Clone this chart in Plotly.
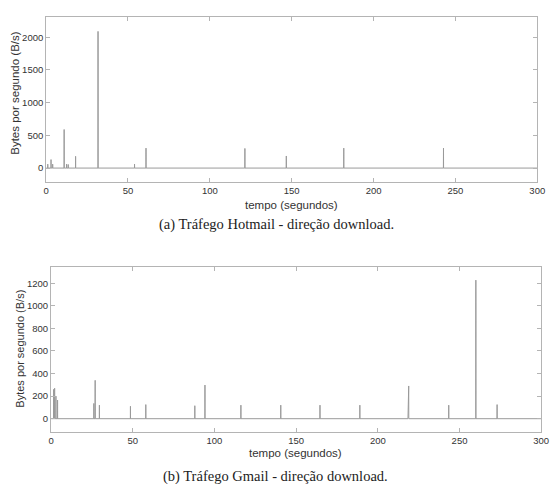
import plotly.graph_objects as go

# Hotmail download spikes (time in s, bytes/s)
hot_t = [1, 3, 4, 11, 12.5, 13.5, 18, 31.7, 54, 61, 121.4, 146.7, 181.8, 242.7]
hot_v = [60, 130, 60, 590, 60, 55, 180, 2090, 60, 305, 300, 185, 305, 305]

# Gmail download spikes
gm_t = [1.6, 2.2, 3.0, 4.0, 26.2, 27.0, 29.6, 48.6, 58.0, 88.0, 94.2, 116.2,
        140.6, 164.6, 189.0, 218.5, 218.9, 243.4, 260.0, 273.0]
gm_v = [260, 270, 200, 165, 135, 340, 120, 110, 125, 115, 298, 120,
        120, 120, 120, 250, 290, 120, 1228, 125]

x_ticks = [0, 50, 100, 150, 200, 250, 300]
hot_yticks = [0, 500, 1000, 1500, 2000]
gm_yticks = [0, 200, 400, 600, 800, 1000, 1200]

X_END = 300
HALF_W = 0.05


def spike_series(ts, vs):
    xs, ys = [0], [0]
    for t, v in zip(ts, vs):
        xs += [t - HALF_W, t, t + HALF_W]
        ys += [0, v, 0]
    xs.append(X_END)
    ys.append(0)
    return xs, ys


W, H = 560, 484
LINE = "#9a9a9a"
FRAME = "#b4b4b4"
TXT = "#333333"

fig = go.Figure()
hx, hy = spike_series(hot_t, hot_v)
gx, gy = spike_series(gm_t, gm_v)
fig.add_trace(go.Scatter(x=hx, y=hy, mode="lines", line=dict(color=LINE, width=1),
                         xaxis="x", yaxis="y", showlegend=False))
fig.add_trace(go.Scatter(x=gx, y=gy, mode="lines", line=dict(color=LINE, width=1),
                         xaxis="x2", yaxis="y2", showlegend=False))


def px_x(p):
    return p / W


def px_y(p):
    return 1 - p / H


axis_common = dict(showgrid=False, zeroline=False, showline=True, linecolor=FRAME,
                   linewidth=1, mirror="ticks", ticks="inside", ticklen=4,
                   tickcolor=FRAME, tickfont=dict(family="Liberation Sans", size=9.5, color=TXT))

fig.update_layout(
    width=W, height=H, margin=dict(l=0, r=0, t=0, b=0),
    paper_bgcolor="white", plot_bgcolor="white", showlegend=False,
    xaxis=dict(domain=[px_x(44), px_x(545)], range=[0, 300], tickvals=x_ticks,
               anchor="y", **axis_common),
    yaxis=dict(domain=[px_y(182), px_y(17)], range=[-213, 2310], tickvals=hot_yticks,
               anchor="x", **axis_common),
    xaxis2=dict(domain=[px_x(49), px_x(549)], range=[0, 300], tickvals=x_ticks,
                anchor="y2", **axis_common),
    yaxis2=dict(domain=[px_y(432), px_y(266.7)], range=[-118, 1347], tickvals=gm_yticks,
                anchor="x2", **axis_common),
)

sans = dict(family="Liberation Sans", size=11.5, color=TXT)
serif = dict(family="Liberation Serif", size=14.5, color="#222222")

annots = [
    dict(text="Bytes por segundo (B/s)", x=px_x(12), y=px_y(93), textangle=-90, font=sans),
    dict(text="tempo (segundos)", x=px_x(294), y=px_y(205), font=sans),
    dict(text="(a) Tráfego Hotmail - direção download.", x=px_x(279), y=px_y(225), font=serif),
    dict(text="Bytes por segundo (B/s)", x=px_x(17), y=px_y(349), textangle=-90,
         font=dict(family="Liberation Sans", size=11, color=TXT)),
    dict(text="tempo (segundos)", x=px_x(298), y=px_y(453), font=sans),
    dict(text="(b) Tráfego Gmail - direção download.", x=px_x(278), y=px_y(476), font=serif),
]
for a in annots:
    fig.add_annotation(xref="paper", yref="paper", showarrow=False,
                       xanchor="center", yanchor="middle", **a)

fig.write_html("out.html")
